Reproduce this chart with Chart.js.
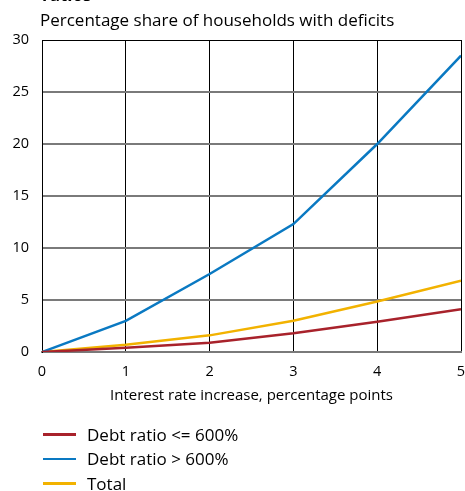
<!DOCTYPE html>
<html>
<head>
<meta charset="utf-8">
<script src="https://cdn.jsdelivr.net/npm/chart.js@4/dist/chart.umd.min.js"></script>
<style>
  html, body { margin: 0; padding: 0; background: #fff; }
  #wrap { position: relative; width: 465px; height: 491px; overflow: hidden; font-family: "Open Sans", sans-serif; color: #000; }
  #chart { position: absolute; left: 0; top: 0; }
  .title { position: absolute; left: 42px; top: -15px; font-size: 17px; line-height: 20px; font-weight: bold; white-space: nowrap; }
  .subtitle { position: absolute; left: 40px; top: 10px; font-size: 17px; line-height: 20px; white-space: nowrap; }
  #legend { position: absolute; left: 43px; top: 422px; font-size: 17px; }
  .item { display: flex; align-items: center; height: 24.5px; }
  .swatch { width: 33px; height: 2.5px; margin-right: 11px; }
</style>
</head>
<body>
<div id="wrap">
  <canvas id="chart" width="465" height="491"></canvas>
  <div class="title">ratios</div>
  <div class="subtitle">Percentage share of households with deficits</div>
  <div id="legend"></div>
</div>
<script>
// Interest rate increase (percentage points)
const rateIncrease = [0, 1, 2, 3, 4, 5];

// Share of households with deficits, per cent
const debtRatioLow = [0, 0.4, 0.9, 1.8, 2.9, 4.1];
const debtRatioHigh = [0, 3.0, 7.5, 12.3, 20.0, 28.5];
const total = [0, 0.7, 1.6, 3.0, 4.85, 6.85];

const seriesNames = ['Debt ratio <= 600%', 'Debt ratio > 600%', 'Total'];
const seriesColors = ['#a8222b', '#0a79c2', '#f2b200'];
const seriesValues = [debtRatioLow, debtRatioHigh, total];

const yTicks = [0, 5, 10, 15, 20, 25, 30];

const FONT = '"Open Sans", sans-serif';

const datasets = seriesValues.map((vals, i) => ({
  label: seriesNames[i],
  data: vals.map((v, j) => ({ x: rateIncrease[j], y: v })),
  borderColor: seriesColors[i],
  backgroundColor: seriesColors[i],
  borderWidth: 2.5,
  pointRadius: 0,
  tension: 0,
  fill: false
}));

new Chart(document.getElementById('chart'), {
  type: 'line',
  data: { datasets },
  options: {
    responsive: false,
    animation: false,
    events: [],
    layout: { padding: { top: 40, right: 4, bottom: 83, left: 0 } },
    plugins: { legend: { display: false }, tooltip: { enabled: false } },
    scales: {
      x: {
        type: 'linear',
        min: 0, max: 5,
        afterBuildTicks: s => { s.ticks = rateIncrease.map(v => ({ value: v })); },
        afterFit: s => { s.height = 56; s.paddingLeft = 0; s.paddingRight = 0; },
        grid: { color: '#000', lineWidth: 1, drawTicks: false },
        border: { color: '#7a7a7a', width: 2 },
        ticks: { color: '#000', font: { family: FONT, size: 14.5 }, padding: 11, maxRotation: 0 },
        title: { display: true, text: 'Interest rate increase, percentage points', color: '#000', font: { family: FONT, size: 15 }, padding: { top: 0, bottom: 3 } }
      },
      y: {
        min: 0, max: 30,
        afterBuildTicks: s => { s.ticks = yTicks.map(v => ({ value: v })); },
        afterFit: s => { s.width = 42; s.paddingTop = 0; s.paddingBottom = 0; },
        grid: {
          // the top gridline doubles as the frame edge
          color: ctx => (ctx.tick && ctx.tick.value === 30 ? '#000' : '#7a7a7a'),
          lineWidth: ctx => (ctx.tick && ctx.tick.value === 30 ? 1 : 2),
          drawTicks: false
        },
        border: { color: '#000', width: 1 },
        ticks: { color: '#000', font: { family: FONT, size: 14.5 }, padding: 13 }
      }
    }
  }
});

// Vertical legend under the chart
const legend = document.getElementById('legend');
seriesNames.forEach((name, i) => {
  const row = document.createElement('div');
  row.className = 'item';
  const sw = document.createElement('span');
  sw.className = 'swatch';
  sw.style.background = seriesColors[i];
  const tx = document.createElement('span');
  tx.textContent = name;
  row.appendChild(sw);
  row.appendChild(tx);
  legend.appendChild(row);
});
</script>
</body>
</html>
